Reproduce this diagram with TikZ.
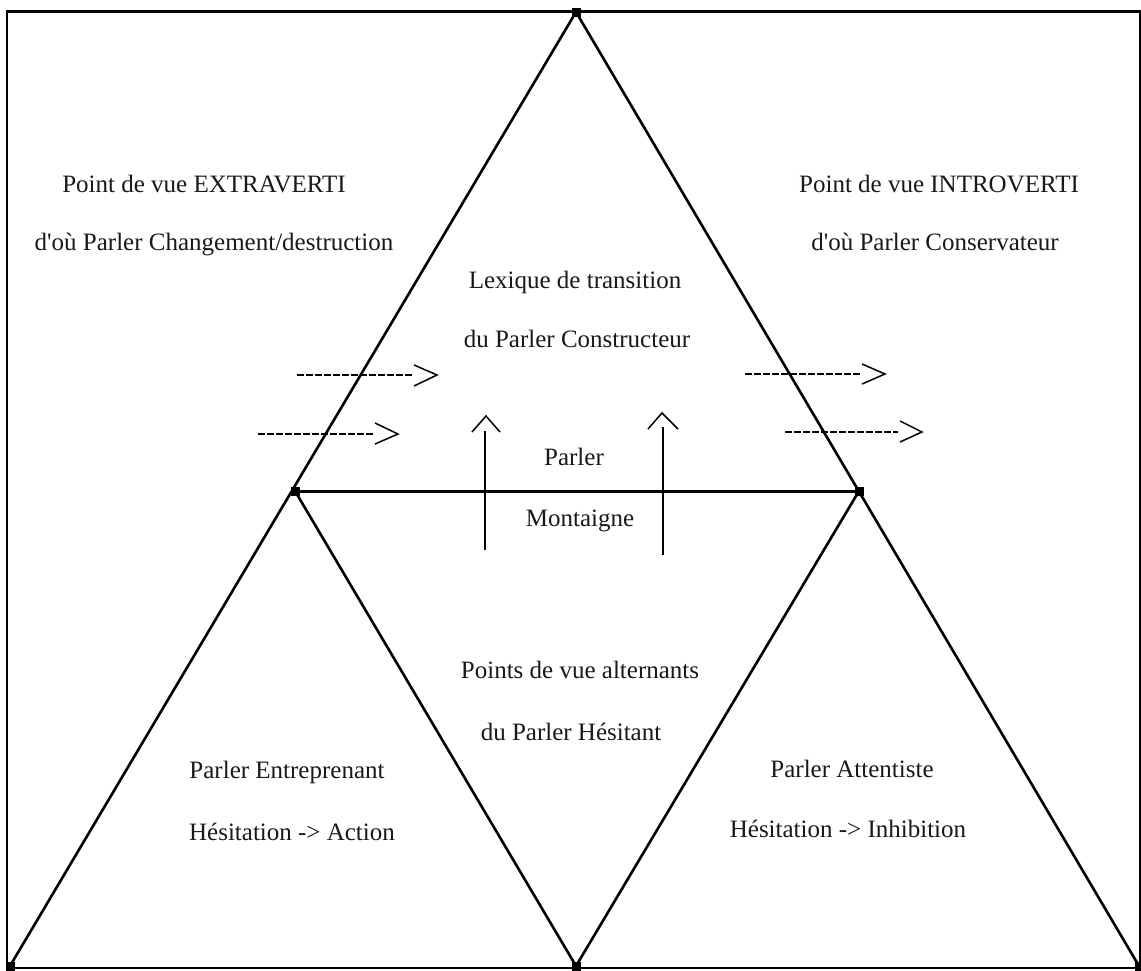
\documentclass[tikz,border=0pt]{standalone}
\usepackage{fontspec}
\setmainfont{Liberation Serif}
\begin{document}
\begin{tikzpicture}[x=1pt,y=-1pt,
  lbl/.style={font=\fontsize{25}{28}\selectfont, text=black!90, inner sep=0pt, anchor=base},
  side/.style={line width=2.6pt, black},
  vtx/.style={fill=black, minimum size=9pt, inner sep=0pt, draw=none},
  darr/.style={line width=1.5pt, dash pattern=on 7pt off 2pt},
  head/.style={line width=1.5pt},
  varr/.style={line width=1.5pt}]
\useasboundingbox (0,0) rectangle (1141,970);
\fill[white] (0,0) rectangle (1141,970);
% frame
\draw[line width=3pt] (6,11) -- (1141,11);
\draw[line width=2.2pt] (7,11) -- (7,968);
\draw[line width=2.2pt] (1140,11) -- (1140,968);
\draw[line width=2.2pt] (6,968) -- (1141,968);
% vertices
\node[vtx] (A) at (576,12) {};
\node[vtx] (L) at (295,491) {};
\node[vtx] (R) at (859,491) {};
\node[vtx] (BL) at (10,966) {};
\node[vtx] (BM) at (576,966) {};
\node[vtx] (BR) at (1139,966) {};
% triangle sides
\draw[side] (A.center) -- (BL.center);
\draw[side] (A.center) -- (BR.center);
\draw[side] (L.center) -- (BM.center);
\draw[side] (R.center) -- (BM.center);
\draw[line width=3pt] (L.center) -- (R.center);
% horizontal dashed arrows
\coordinate (a1s) at (297,375); \coordinate (a1e) at (412,375);
\coordinate (a2s) at (258,434); \coordinate (a2e) at (373,434);
\coordinate (a3s) at (745,374); \coordinate (a3e) at (860,374);
\coordinate (a4s) at (785,432); \coordinate (a4e) at (898,432);
\draw[darr] (a1s) -- (a1e);
\draw[darr] (a2s) -- (a2e);
\draw[darr] (a3s) -- (a3e);
\draw[darr] (a4s) -- (a4e);
\draw[head] (414,365) -- (437,375) -- (414,386);
\draw[head] (375,423) -- (398,434) -- (375,444);
\draw[head] (862,364) -- (885,374) -- (862,384);
\draw[head] (900,421) -- (922,432) -- (900,442);
% vertical arrows
\coordinate (v1s) at (485,550); \coordinate (v1e) at (485,431);
\coordinate (v2s) at (663,555); \coordinate (v2e) at (663,427);
\draw[varr] (v1s) -- (v1e);
\draw[varr] (v2s) -- (v2e);
\draw[head] (472,432) -- (486,416) -- (500,432);
\draw[head] (648,429) -- (662,413) -- (678,429);
% labels
\node[lbl] (t1) at (204,192) {Point de vue EXTRAVERTI};
\node[lbl] (t2) at (214,250) {d\textquotesingle où Parler Changement/destruction};
\node[lbl] (t3) at (939,192) {Point de vue INTROVERTI};
\node[lbl] (t4) at (935,250) {d\textquotesingle où Parler Conservateur};
\node[lbl] (t5) at (575,288) {Lexique de transition};
\node[lbl] (t6) at (577,347) {du Parler Constructeur};
\node[lbl] (t7) at (574,465) {Parler};
\node[lbl] (t8) at (580,526) {Montaigne};
\node[lbl] (t9) at (580,678) {Points de vue alternants};
\node[lbl] (t10) at (571,740) {du Parler Hésitant};
\node[lbl] (t11) at (287,778) {Parler Entreprenant};
\node[lbl] (t12) at (292,840) {Hésitation -> Action};
\node[lbl] (t13) at (852,777) {Parler Attentiste};
\node[lbl] (t14) at (848,837) {Hésitation -> Inhibition};
\end{tikzpicture}
\end{document}
